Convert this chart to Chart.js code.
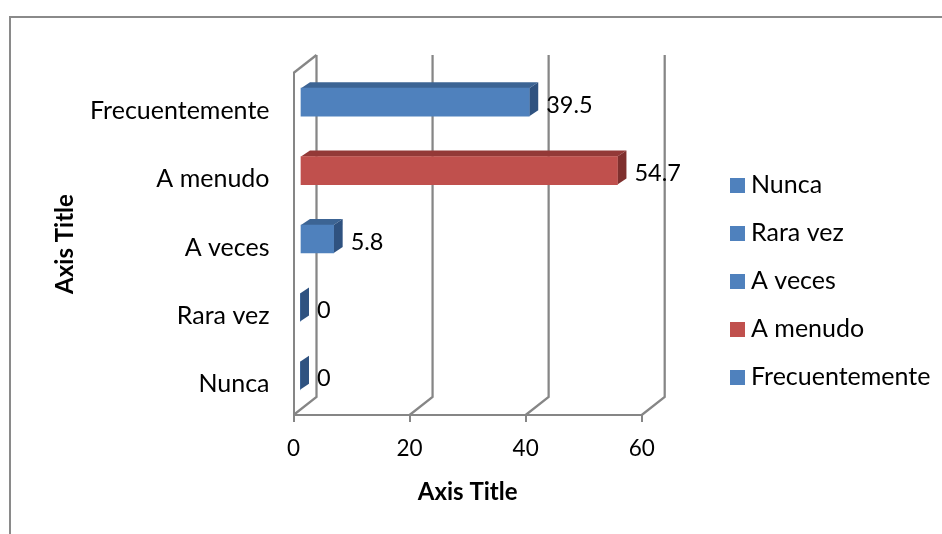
<!DOCTYPE html>
<html>
<head>
<meta charset="utf-8">
<style>html,body{margin:0;padding:0;background:#fff}canvas{display:block}</style>
<script src="https://cdn.jsdelivr.net/npm/chart.js@4"></script>
</head>
<body>
<canvas id="c" width="942" height="534"></canvas>
<script>
const categories = ['Nunca', 'Rara vez', 'A veces', 'A menudo', 'Frecuentemente'];
const values = [0, 0, 5.8, 54.7, 39.5];
const valueLabels = ['0', '0', '5.8', '54.7', '39.5'];
const xTicks = [0, 20, 40, 60];
const faceColors = ['#4f81bd', '#4f81bd', '#4f81bd', '#c0504d', '#4f81bd'];
const topColors = ['#3c6494', '#3c6494', '#3c6494', '#933937', '#3c6494'];
const sideColors = ['#2f5280', '#2f5280', '#2f5280', '#7f302e', '#2f5280'];

const FONT = 'Lato, Carlito, Calibri, sans-serif';
const GRID = '#868686';
const BACK = {dx: 23, dy: -18};
const BAR = {dx: 6.5, dy: -5};
const DEPTH = {dx: 9, dy: -6};
const AREA = {left: 293.5, right: 641.7, top: 73, bottom: 415};

function swatch(color) {
  const s = document.createElement('canvas');
  s.width = 15; s.height = 15;
  const g = s.getContext('2d');
  g.fillStyle = color;
  g.fillRect(0, 0, 15, 15);
  return s;
}

function line(ctx, pts) {
  ctx.beginPath();
  pts.forEach((p, i) => i ? ctx.lineTo(p[0], p[1]) : ctx.moveTo(p[0], p[1]));
  ctx.stroke();
}
function poly(ctx, pts, color) {
  ctx.fillStyle = color;
  ctx.beginPath();
  pts.forEach((p, i) => i ? ctx.lineTo(p[0], p[1]) : ctx.moveTo(p[0], p[1]));
  ctx.closePath();
  ctx.fill();
}

const look3d = {
  id: 'look3d',
  beforeLayout(chart) {
    const leg = chart.legend;
    if (leg && !leg._wrapped) {
      leg._wrapped = true;
      const fit = leg.fit.bind(leg);
      leg.fit = function () { fit(); this.width = 942 - AREA.right; };
    }
  },
  afterLayout(chart) {
    const leg = chart.legend;
    leg.left = 713.5;
    leg.top = 149.5;
  },
  beforeDraw(chart) {
    const ctx = chart.ctx;
    ctx.save();
    ctx.strokeStyle = '#8a8a8a';
    ctx.lineWidth = 2;
    line(ctx, [[10, 534], [10, 17], [942, 17]]);
    ctx.restore();
  },
  beforeDatasetsDraw(chart) {
    const ctx = chart.ctx, x = chart.scales.x, a = chart.chartArea;
    ctx.save();
    ctx.strokeStyle = GRID;
    ctx.lineWidth = 2.25;
    xTicks.forEach(v => {
      const px = x.getPixelForValue(v);
      line(ctx, [[px, a.bottom], [px + BACK.dx, a.bottom + BACK.dy], [px + BACK.dx, a.top + BACK.dy]]);
    });
    const p0 = x.getPixelForValue(0);
    line(ctx, [[p0, a.top], [p0 + BACK.dx, a.top + BACK.dy]]);
    const meta = chart.getDatasetMeta(0);
    meta.data.forEach((el, i) => {
      const x0 = el.base + BAR.dx, x1 = el.x + BAR.dx;
      const t = el.y - el.height / 2 + BAR.dy, b = el.y + el.height / 2 + BAR.dy;
      if (values[i] > 0) {
        poly(ctx, [[x0, t], [x0 + DEPTH.dx, t + DEPTH.dy], [x1 + DEPTH.dx, t + DEPTH.dy], [x1, t]], topColors[i]);
      }
      poly(ctx, [[x1, t], [x1 + DEPTH.dx, t + DEPTH.dy], [x1 + DEPTH.dx, b + DEPTH.dy], [x1, b]], sideColors[i]);
    });
    ctx.restore();
    ctx.save();
    ctx.translate(BAR.dx, BAR.dy);
  },
  afterDatasetsDraw(chart) {
    const ctx = chart.ctx;
    ctx.restore();
    ctx.save();
    ctx.fillStyle = '#000';
    ctx.font = '23.5px ' + FONT;
    ctx.textAlign = 'left';
    ctx.textBaseline = 'middle';
    chart.getDatasetMeta(0).data.forEach((el, i) => {
      ctx.fillText(valueLabels[i], el.x + BAR.dx + DEPTH.dx + 8, el.y - 2);
    });
    ctx.restore();
  }
};

new Chart(document.getElementById('c'), {
  type: 'bar',
  plugins: [look3d],
  data: {
    labels: categories,
    datasets: [{
      data: values,
      backgroundColor: faceColors,
      borderWidth: 0,
      barThickness: 28
    }]
  },
  options: {
    indexAxis: 'y',
    responsive: false,
    animation: false,
    events: [],
    layout: {padding: {left: 0, right: 0, top: AREA.top, bottom: 0}},
    plugins: {
      tooltip: {enabled: false},
      legend: {
        position: 'right',
        align: 'start',
        labels: {
          color: '#000',
          font: {family: FONT, size: 25},
          usePointStyle: true,
          pointStyleWidth: 2,
          boxHeight: 15,
          padding: 23,
          generateLabels: () => categories.map((name, i) => ({
            text: name,
            fillStyle: faceColors[i],
            strokeStyle: faceColors[i],
            lineWidth: 0,
            pointStyle: swatch(faceColors[i]),
            hidden: false,
            index: i
          }))
        }
      }
    },
    scales: {
      x: {
        type: 'linear',
        min: 0,
        max: 60,
        afterFit(s) { s.height = 534 - AREA.bottom; },
        afterBuildTicks(s) { s.ticks = xTicks.map(v => ({value: v})); },
        grid: {display: true, drawOnChartArea: false, drawTicks: true, tickLength: 7, color: GRID, lineWidth: 2},
        border: {display: true, color: GRID, width: 2},
        ticks: {color: '#000', font: {family: FONT, size: 22.5}, padding: 13, maxRotation: 0},
        title: {display: true, text: 'Axis Title', color: '#000', font: {family: FONT, size: 24, weight: 'bold'}, padding: {top: 0, bottom: 27.6}}
      },
      y: {
        type: 'category',
        reverse: true,
        afterFit(s) { s.width = AREA.left; },
        grid: {display: false, drawTicks: false},
        border: {display: true, color: GRID, width: 2},
        ticks: {color: '#000', font: {family: FONT, size: 25}, padding: 24, labelOffset: 3.5},
        title: {display: true, text: 'Axis Title', color: '#000', font: {family: FONT, size: 24, weight: 'bold'}, padding: {top: 50.6, bottom: 0}}
      }
    }
  }
});
</script>
</body>
</html>
